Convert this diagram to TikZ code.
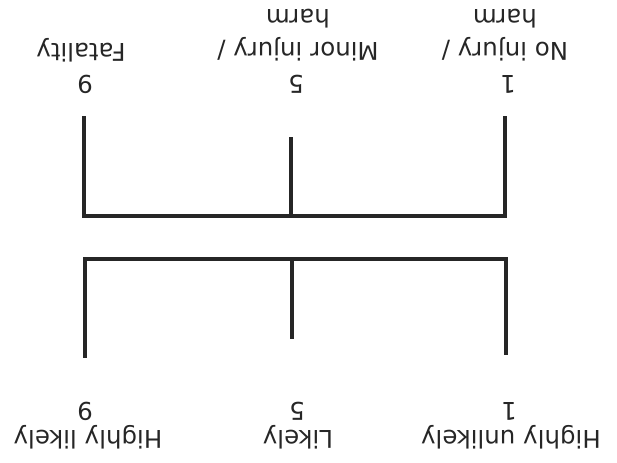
\documentclass[tikz,border=0pt]{standalone}
\usepackage{fontspec}
\setmainfont{DejaVu Sans}
\usetikzlibrary{positioning}

\definecolor{inkgray}{HTML}{262626}

\tikzset{
	bracket/.style={line width=0.09cm, color=inkgray, line cap=rect},
	scalelabel/.style={rotate=180, inner sep=0pt, color=inkgray, align=center,
		font=\fontsize{17.4}{23.5}\selectfont},
}

\begin{document}
\begin{tikzpicture}[x=0.025cm, y=-0.025cm]
		%%%%% START %%%%%
		\useasboundingbox (0, 0) rectangle (617, 462);
		
		% severity bracket
		\draw[bracket] (84, 118) -- (84, 216) -- (505, 216) -- (505, 118);
		\draw[bracket] (291, 139) -- (291, 216);
		
		% likelihood bracket
		\draw[bracket] (85, 356) -- (85, 259) -- (506, 259) -- (506, 353);
		\draw[bracket] (292, 259) -- (292, 337);
		
		\node[scalelabel, anchor=base] (sevone) at (508, 75) {1};
		\node[scalelabel, anchor=base] (sevfive) at (296, 75) {5};
		\node[scalelabel, anchor=base] (sevnine) at (85, 75) {9};
		
		\node[scalelabel, anchor=north] (sevnoharm) at (505, 61.5) {No injury /\\harm};
		\node[scalelabel, anchor=north] (sevminor) at (298, 61.5) {Minor injury /\\harm};
		\node[scalelabel, anchor=base] (sevfatal) at (81, 43) {Fatality};
		
		\node[scalelabel, anchor=base] (likone) at (509, 402) {1};
		\node[scalelabel, anchor=base] (likfive) at (297, 402) {5};
		\node[scalelabel, anchor=base] (liknine) at (85, 402) {9};
		
		\node[scalelabel, anchor=base] (liklow) at (511, 430) {Highly unlikely};
		\node[scalelabel, anchor=base] (likmid) at (298, 430) {Likely};
		\node[scalelabel, anchor=base] (likhigh) at (88, 430) {Highly likely};
		
		%%%%% END %%%%%
	\end{tikzpicture}
\end{document}
